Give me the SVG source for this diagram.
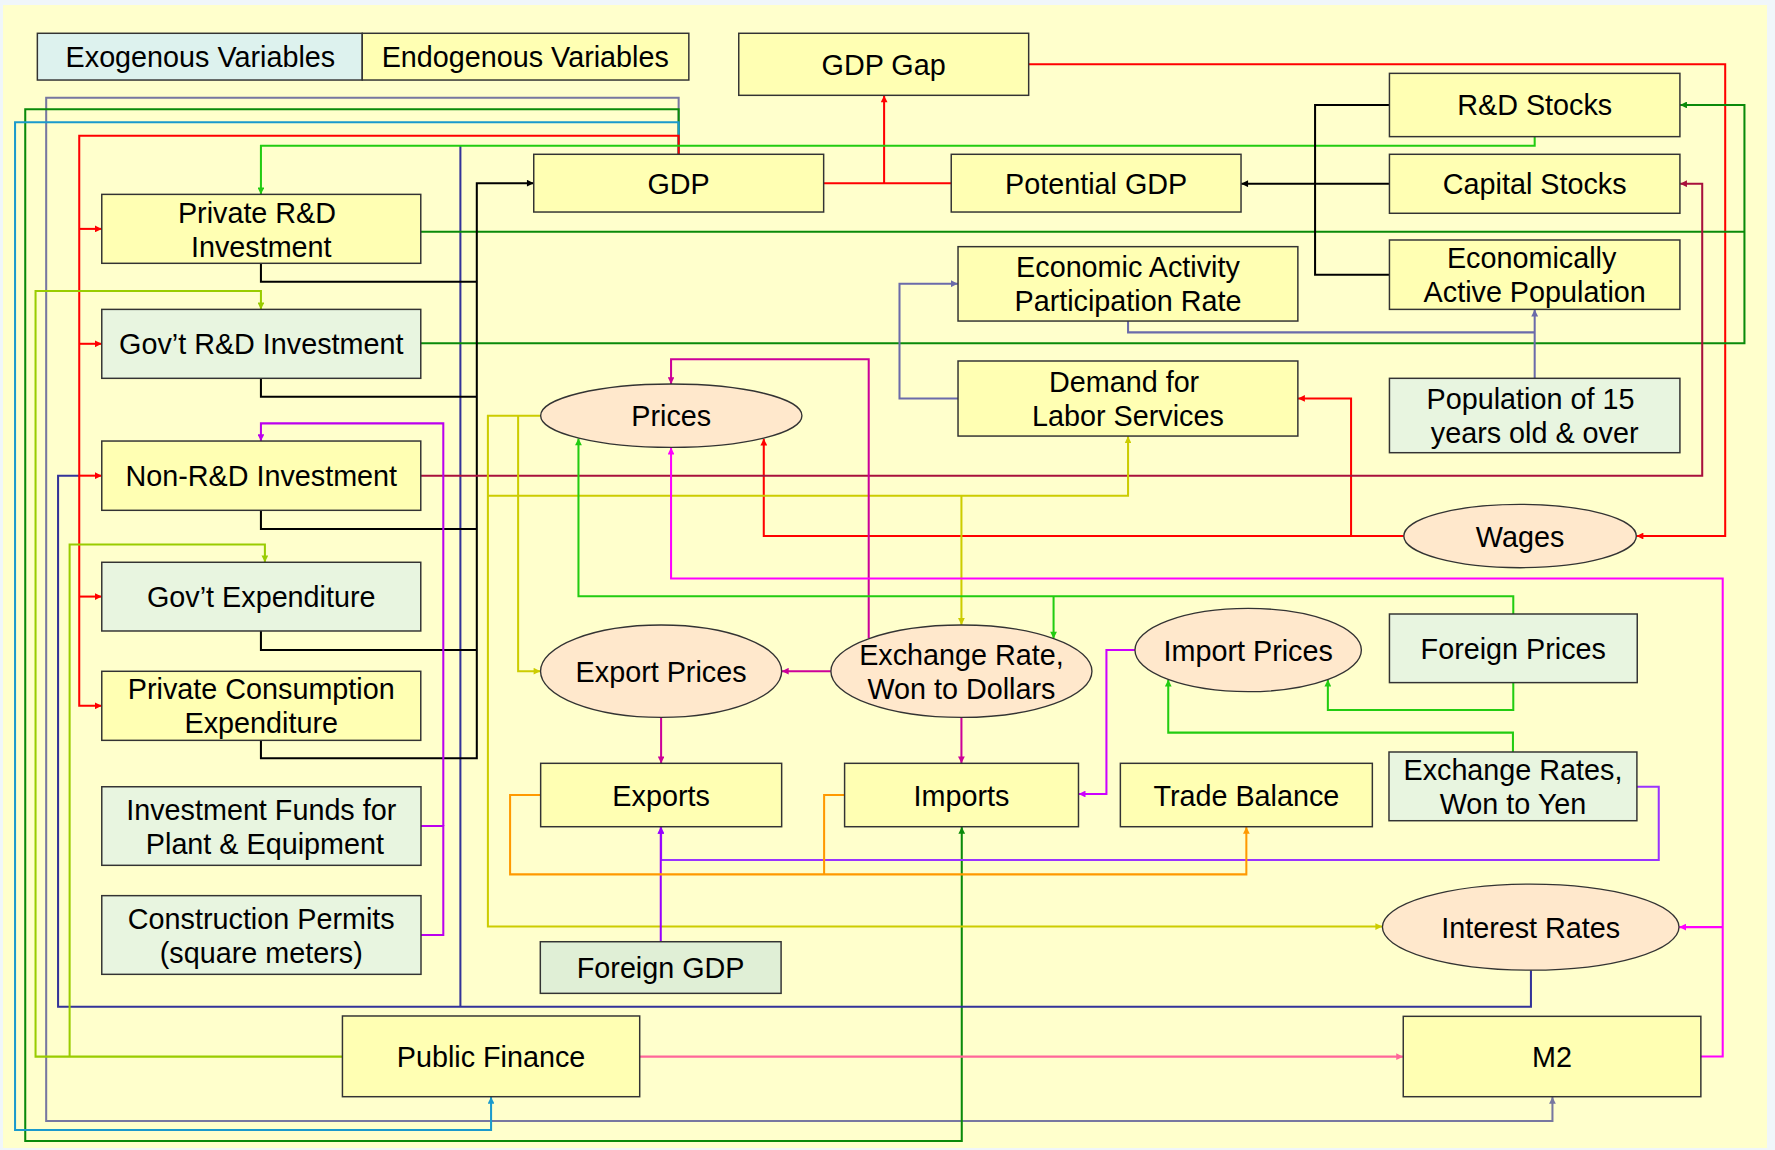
<svg xmlns="http://www.w3.org/2000/svg" width="1775" height="1150" viewBox="0 0 1775 1150">
<style>
text{font-family:"Liberation Sans",Arial,sans-serif;font-size:25.4px;fill:#000;text-anchor:middle}
.en{fill:#FFFFB3;stroke:#333;stroke-width:1.3}
.ex{fill:#E8F5E0;stroke:#333;stroke-width:1.3}
.el{fill:#FFE8CC;stroke:#333;stroke-width:1.2}
.c{fill:none;stroke-width:1.8;stroke-linejoin:miter}
</style>
<defs>
<marker id="a-red" viewBox="0 0 10 10" refX="10" refY="5" markerWidth="7" markerHeight="6" markerUnits="userSpaceOnUse" orient="auto"><path d="M0,0L10,5L0,10z" fill="#FF0000"/></marker>
<marker id="a-blk" viewBox="0 0 10 10" refX="10" refY="5" markerWidth="7" markerHeight="6" markerUnits="userSpaceOnUse" orient="auto"><path d="M0,0L10,5L0,10z" fill="#000"/></marker>
<marker id="a-dg" viewBox="0 0 10 10" refX="10" refY="5" markerWidth="7" markerHeight="6" markerUnits="userSpaceOnUse" orient="auto"><path d="M0,0L10,5L0,10z" fill="#0A8A0A"/></marker>
<marker id="a-bg" viewBox="0 0 10 10" refX="10" refY="5" markerWidth="7" markerHeight="6" markerUnits="userSpaceOnUse" orient="auto"><path d="M0,0L10,5L0,10z" fill="#22CC11"/></marker>
<marker id="a-yg" viewBox="0 0 10 10" refX="10" refY="5" markerWidth="7" markerHeight="6" markerUnits="userSpaceOnUse" orient="auto"><path d="M0,0L10,5L0,10z" fill="#99CC00"/></marker>
<marker id="a-ol" viewBox="0 0 10 10" refX="10" refY="5" markerWidth="7" markerHeight="6" markerUnits="userSpaceOnUse" orient="auto"><path d="M0,0L10,5L0,10z" fill="#CCCC00"/></marker>
<marker id="a-sl" viewBox="0 0 10 10" refX="10" refY="5" markerWidth="7" markerHeight="6" markerUnits="userSpaceOnUse" orient="auto"><path d="M0,0L10,5L0,10z" fill="#6B6BAA"/></marker>
<marker id="a-s2" viewBox="0 0 10 10" refX="10" refY="5" markerWidth="7" markerHeight="6" markerUnits="userSpaceOnUse" orient="auto"><path d="M0,0L10,5L0,10z" fill="#7777A0"/></marker>
<marker id="a-cy" viewBox="0 0 10 10" refX="10" refY="5" markerWidth="7" markerHeight="6" markerUnits="userSpaceOnUse" orient="auto"><path d="M0,0L10,5L0,10z" fill="#1A9ACC"/></marker>
<marker id="a-vi" viewBox="0 0 10 10" refX="10" refY="5" markerWidth="7" markerHeight="6" markerUnits="userSpaceOnUse" orient="auto"><path d="M0,0L10,5L0,10z" fill="#BB00EE"/></marker>
<marker id="a-cr" viewBox="0 0 10 10" refX="10" refY="5" markerWidth="7" markerHeight="6" markerUnits="userSpaceOnUse" orient="auto"><path d="M0,0L10,5L0,10z" fill="#A8103C"/></marker>
<marker id="a-dm" viewBox="0 0 10 10" refX="10" refY="5" markerWidth="7" markerHeight="6" markerUnits="userSpaceOnUse" orient="auto"><path d="M0,0L10,5L0,10z" fill="#CC0099"/></marker>
<marker id="a-mg" viewBox="0 0 10 10" refX="10" refY="5" markerWidth="7" markerHeight="6" markerUnits="userSpaceOnUse" orient="auto"><path d="M0,0L10,5L0,10z" fill="#FF00FF"/></marker>
<marker id="a-pv" viewBox="0 0 10 10" refX="10" refY="5" markerWidth="7" markerHeight="6" markerUnits="userSpaceOnUse" orient="auto"><path d="M0,0L10,5L0,10z" fill="#CC00FF"/></marker>
<marker id="a-pu" viewBox="0 0 10 10" refX="10" refY="5" markerWidth="7" markerHeight="6" markerUnits="userSpaceOnUse" orient="auto"><path d="M0,0L10,5L0,10z" fill="#9933FF"/></marker>
<marker id="a-v2" viewBox="0 0 10 10" refX="10" refY="5" markerWidth="7" markerHeight="6" markerUnits="userSpaceOnUse" orient="auto"><path d="M0,0L10,5L0,10z" fill="#9900FF"/></marker>
<marker id="a-or" viewBox="0 0 10 10" refX="10" refY="5" markerWidth="7" markerHeight="6" markerUnits="userSpaceOnUse" orient="auto"><path d="M0,0L10,5L0,10z" fill="#FF9900"/></marker>
<marker id="a-pk" viewBox="0 0 10 10" refX="10" refY="5" markerWidth="7" markerHeight="6" markerUnits="userSpaceOnUse" orient="auto"><path d="M0,0L10,5L0,10z" fill="#FF6699"/></marker>
</defs>
<rect x="0" y="0" width="1775" height="1150" fill="#F0F6FA"/>
<rect x="3" y="5" width="1764" height="1143" fill="#FFFFCC"/>
<g transform="scale(1.13202)">
<g id="connectors">
<path class="c" stroke="#7777A0" stroke-width="1.6" d="M599.5,136.3V86.3H40.8V990.3H1371.4V969" marker-end="url(#a-s2)"/>
<path class="c" stroke="#0A8A0A" d="M599.5,136.3V96.6H22.3V1008H849.6V730.5" marker-end="url(#a-dg)"/>
<path class="c" stroke="#1A9ACC" d="M599.5,136.3V108H13.3V998.2H433.8V969" marker-end="url(#a-cy)"/>
<path class="c" stroke="#333399" d="M406.7,889.3V128.7"/>
<path class="c" stroke="#333399" d="M1352.4,857V889.3H51.3V420.2H70"/>
<path class="c" stroke="#FF0000" d="M599.5,136.3V119.9H70V623.5H89.9" marker-end="url(#a-red)"/>
<path class="c" stroke="#FF0000" d="M70,202.2H89.9" marker-end="url(#a-red)"/>
<path class="c" stroke="#FF0000" d="M70,303.7H89.9" marker-end="url(#a-red)"/>
<path class="c" stroke="#FF0000" d="M70,420.2H89.9" marker-end="url(#a-red)"/>
<path class="c" stroke="#FF0000" d="M70,527H89.9" marker-end="url(#a-red)"/>
<path class="c" stroke="#FF0000" d="M727.6,161.8H840.3M781,161.8V84.4" marker-end="url(#a-red)"/>
<path class="c" stroke="#FF0000" d="M908.7,56.8H1524V473.5H1445.7" marker-end="url(#a-red)"/>
<path class="c" stroke="#FF0000" d="M1240,473.5H674.7V387.5" marker-end="url(#a-red)"/>
<path class="c" stroke="#FF0000" d="M1193.5,473.5V352H1146.7" marker-end="url(#a-red)"/>
<path class="c" stroke="#22CC11" d="M1355.7,120.7V128.7H230.5V171.7" marker-end="url(#a-bg)"/>
<path class="c" stroke="#0A8A0A" d="M371.7,204.7H1541"/>
<path class="c" stroke="#0A8A0A" d="M371.7,303.3H1541V92.7H1484.2" marker-end="url(#a-dg)"/>
<path class="c" stroke="#000" stroke-width="2.2" d="M230.5,232.6V248.8H421.2M230.5,334.2V350.4H421.2M230.5,450.8V467.3H421.2M230.5,557.4V574.2H421.2"/>
<path class="c" stroke="#000" stroke-width="2.2" d="M230.5,654V669.9H421.2V161.8H471.5" marker-end="url(#a-blk)"/>
<path class="c" stroke="#000" d="M1227.4,92.7H1161.7V242.7H1227.4"/>
<path class="c" stroke="#000" d="M1227.4,162.3H1096.5" marker-end="url(#a-blk)"/>
<path class="c" stroke="#6B6BAA" stroke-width="1.5" d="M996.5,283.6V293.6H1355.7"/>
<path class="c" stroke="#6B6BAA" stroke-width="1.5" d="M1355.7,334.2V273.5" marker-end="url(#a-sl)"/>
<path class="c" stroke="#6B6BAA" stroke-width="1.5" d="M846.3,352H794.6V250.6H846.1" marker-end="url(#a-sl)"/>
<path class="c" stroke="#A8103C" d="M371.7,420.2H1503.7V162.3H1484.2" marker-end="url(#a-cr)"/>
<path class="c" stroke="#BB00EE" d="M371.9,826H391.6V729.7H371.9"/>
<path class="c" stroke="#BB00EE" d="M391.6,729.7V374H230.5V389.6" marker-end="url(#a-vi)"/>
<path class="c" stroke="#99CC00" d="M302.5,933.4H31.4V257H230.5V273.3" marker-end="url(#a-yg)"/>
<path class="c" stroke="#99CC00" d="M61.5,933.4V481H234V496.7" marker-end="url(#a-yg)"/>
<path class="c" stroke="#CCCC00" d="M477.6,367.2H431V818.5H1221" marker-end="url(#a-ol)"/>
<path class="c" stroke="#CCCC00" d="M457.7,367.2V592.9H477.4" marker-end="url(#a-ol)"/>
<path class="c" stroke="#CCCC00" d="M431,437.9H996.5V385.4" marker-end="url(#a-ol)"/>
<path class="c" stroke="#CCCC00" d="M849.3,437.9V552" marker-end="url(#a-ol)"/>
<path class="c" stroke="#CC0099" d="M767.4,563.7V317.4H592.8V339.2" marker-end="url(#a-dm)"/>
<path class="c" stroke="#CC0099" d="M734,592.9H690.7" marker-end="url(#a-dm)"/>
<path class="c" stroke="#CC0099" d="M584,633.7V674.2" marker-end="url(#a-dm)"/>
<path class="c" stroke="#CC0099" d="M849.3,633.7V674.2" marker-end="url(#a-dm)"/>
<path class="c" stroke="#FF00FF" d="M1502.5,933.3H1521.8V511H592.8V395.4" marker-end="url(#a-mg)"/>
<path class="c" stroke="#FF00FF" d="M1521.8,819H1483.4" marker-end="url(#a-mg)"/>
<path class="c" stroke="#22CC11" d="M1336.8,542.4V526.8H511V387.3" marker-end="url(#a-bg)"/>
<path class="c" stroke="#22CC11" d="M930.7,526.8V564" marker-end="url(#a-bg)"/>
<path class="c" stroke="#22CC11" d="M1336.8,603V627.2H1173V600.5" marker-end="url(#a-bg)"/>
<path class="c" stroke="#22CC11" d="M1336.5,664.3V647.2H1032V600.5" marker-end="url(#a-bg)"/>
<path class="c" stroke="#CC00FF" d="M1002.6,574.2H977.4V701.4H952.9" marker-end="url(#a-pv)"/>
<path class="c" stroke="#9933FF" d="M1446,695H1465.3V759.7H584V730.5" marker-end="url(#a-pu)"/>
<path class="c" stroke="#9900FF" d="M583.7,831.9V730.5" marker-end="url(#a-v2)"/>
<path class="c" stroke="#FF9900" d="M746.1,702.3H728V772.4"/>
<path class="c" stroke="#FF9900" d="M477.6,702.3H450.6V772.4H1101V730.5" marker-end="url(#a-or)"/>
<path class="c" stroke="#FF6699" d="M565.1,933.4H1239.4" marker-end="url(#a-pk)"/>
</g>
<g id="legend-exogenous"><rect x="33" y="29.4" width="287" height="41.3" fill="#DDF2EE" stroke="#333" stroke-width="1.3"/><text x="177" y="59.3">Exogenous Variables</text></g>
<g id="legend-endogenous"><rect x="320" y="29.4" width="288.5" height="41.3" class="en"/><text x="464" y="59.3">Endogenous Variables</text></g>
<g id="gdp-gap"><rect x="652.6" y="29.4" width="256.1" height="54.8" class="en"/><text x="780.6" y="66">GDP Gap</text></g>
<g id="gdp"><rect x="471.5" y="136.3" width="256.1" height="51" class="en"/><text x="599.5" y="171">GDP</text></g>
<g id="potential-gdp"><rect x="840.3" y="136.3" width="256" height="51" class="en"/><text x="968.3" y="171">Potential GDP</text></g>
<g id="rd-stocks"><rect x="1227.4" y="64.8" width="256.6" height="55.9" class="en"/><text x="1355.7" y="102">R&amp;D Stocks</text></g>
<g id="capital-stocks"><rect x="1227.4" y="136.3" width="256.6" height="52.1" class="en"/><text x="1355.7" y="171.5">Capital Stocks</text></g>
<g id="econ-active-pop"><rect x="1227.4" y="212" width="256.6" height="61.3" class="en"/><text x="1353" y="237">Economically</text><text x="1355.7" y="266.5">Active Population</text></g>
<g id="participation-rate"><rect x="846.3" y="217.9" width="300.2" height="65.7" class="en"/><text x="996.4" y="245">Economic Activity</text><text x="996.4" y="275">Participation Rate</text></g>
<g id="labor-demand"><rect x="846.3" y="318.9" width="300.2" height="66.3" class="en"/><text x="993" y="346.3">Demand for</text><text x="996.4" y="376.3">Labor Services</text></g>
<g id="population-15"><rect x="1227.4" y="334.2" width="256.6" height="65.7" class="ex"/><text x="1352" y="361.3">Population of 15</text><text x="1355.7" y="391.3">years old &amp; over</text></g>
<g id="private-rd"><rect x="89.9" y="171.7" width="281.8" height="60.9" class="en"/><text x="227" y="196.7">Private R&amp;D</text><text x="230.8" y="226.8">Investment</text></g>
<g id="govt-rd"><rect x="89.9" y="273.3" width="281.8" height="60.9" class="ex"/><text x="230.8" y="313">Gov’t R&amp;D Investment</text></g>
<g id="non-rd"><rect x="89.9" y="389.6" width="281.8" height="61.2" class="en"/><text x="230.8" y="429.5">Non-R&amp;D Investment</text></g>
<g id="govt-exp"><rect x="89.9" y="496.7" width="281.8" height="60.7" class="ex"/><text x="230.8" y="536.3">Gov’t Expenditure</text></g>
<g id="private-consumption"><rect x="89.9" y="593" width="281.8" height="61" class="en"/><text x="230.8" y="617.8">Private Consumption</text><text x="230.8" y="647.8">Expenditure</text></g>
<g id="investment-funds"><rect x="89.9" y="695" width="282" height="69.4" class="ex"/><text x="230.8" y="724">Investment Funds for</text><text x="234" y="754">Plant &amp; Equipment</text></g>
<g id="construction-permits"><rect x="89.9" y="791.2" width="282" height="69.5" class="ex"/><text x="230.8" y="820.3">Construction Permits</text><text x="230.8" y="850.3">(square meters)</text></g>
<g id="prices"><ellipse cx="593" cy="367.2" rx="115.4" ry="28" class="el"/><text x="593" y="376.5">Prices</text></g>
<g id="wages"><ellipse cx="1342.8" cy="473.5" rx="102.7" ry="28" class="el"/><text x="1342.8" y="482.8">Wages</text></g>
<g id="export-prices"><ellipse cx="584" cy="592.9" rx="106.5" ry="40.8" class="el"/><text x="584" y="602.2">Export Prices</text></g>
<g id="exchange-rate-usd"><ellipse cx="849.3" cy="592.9" rx="115.3" ry="40.8" class="el"/><text x="849.3" y="587.2">Exchange Rate,</text><text x="849.3" y="617.2">Won to Dollars</text></g>
<g id="import-prices"><ellipse cx="1102.6" cy="574.2" rx="100" ry="36.8" class="el"/><text x="1102.6" y="583.5">Import Prices</text></g>
<g id="foreign-prices"><rect x="1227.4" y="542.4" width="218.9" height="60.6" class="ex"/><text x="1336.8" y="582">Foreign Prices</text></g>
<g id="exports"><rect x="477.6" y="674.3" width="212.9" height="56" class="en"/><text x="584" y="711.6">Exports</text></g>
<g id="imports"><rect x="746.1" y="674.3" width="206.6" height="56" class="en"/><text x="849.4" y="711.6">Imports</text></g>
<g id="trade-balance"><rect x="989.7" y="674.3" width="222.6" height="56" class="en"/><text x="1101" y="711.6">Trade Balance</text></g>
<g id="exchange-rates-yen"><rect x="1227" y="664.3" width="219" height="60.7" class="ex"/><text x="1336.5" y="689">Exchange Rates,</text><text x="1336.5" y="719">Won to Yen</text></g>
<g id="foreign-gdp"><rect x="477.3" y="831.9" width="212.7" height="45.6" fill="#E0EFD6" stroke="#333" stroke-width="1.3"/><text x="583.6" y="864">Foreign GDP</text></g>
<g id="interest-rates"><ellipse cx="1352.2" cy="819" rx="131" ry="38" class="el"/><text x="1352.2" y="828.3">Interest Rates</text></g>
<g id="public-finance"><rect x="302.5" y="897.5" width="262.6" height="71.3" class="en"/><text x="433.8" y="942.3">Public Finance</text></g>
<g id="m2"><rect x="1239.6" y="897.8" width="262.9" height="71" class="en"/><text x="1371" y="942.6">M2</text></g>
</g>
</svg>
